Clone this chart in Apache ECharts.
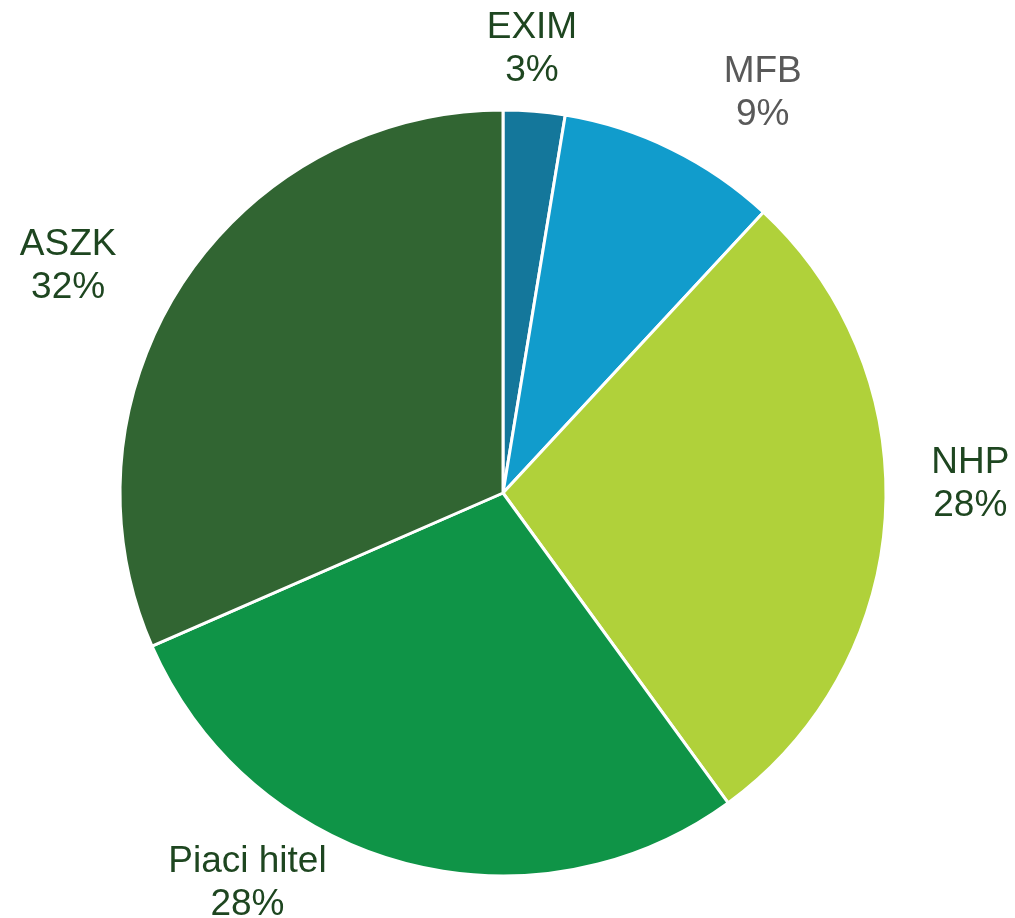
<!DOCTYPE html>
<html><head><meta charset="utf-8">
<script src="https://cdn.jsdelivr.net/npm/echarts@6/dist/echarts.min.js"></script>
<style>html,body{margin:0;padding:0;background:#fff}#c{width:1015px;height:918px}</style>
</head><body><div id="c"></div>
<script>
const categories = ['EXIM', 'MFB', 'NHP', 'Piaci hitel', 'ASZK'];
const values = [2.6, 9.3, 28.1, 28.45, 31.55];
const colors = ['#14779B', '#119CCC', '#B0D13A', '#0F9447', '#316532'];
const labelColors = ['#1E4620', '#595959', '#1E4620', '#1E4620', '#1E4620'];
// label nudges relative to ECharts' default outside placement (layout only)
const labelNudgeX = [-55, 34, 11, -63, -36];
const labelNudgeY = [-32, -29, -33, -8, 0];

const chart = echarts.init(document.getElementById('c'));
chart.setOption({
  animation: false,
  series: [{
    type: 'pie',
    center: [503, 493],
    radius: [0, 383],
    startAngle: 90,
    clockwise: true,
    percentPrecision: 0,
    avoidLabelOverlap: false,
    itemStyle: { borderColor: '#fff', borderWidth: 3 },
    label: {
      show: true,
      position: 'outside',
      formatter: '{b}\n{d}%',
      fontFamily: 'Liberation Sans, Arial, sans-serif',
      fontSize: 37,
      lineHeight: 43
    },
    labelLine: { show: false, length: 30, length2: 0 },
    labelLayout: function (p) {
      const i = p.dataIndex;
      return {
        x: p.labelRect.x + p.labelRect.width / 2 + labelNudgeX[i],
        y: p.labelRect.y + p.labelRect.height / 2 + labelNudgeY[i],
        align: 'center', verticalAlign: 'middle'
      };
    },
    data: categories.map((c, i) => ({
      name: c, value: values[i],
      itemStyle: { color: colors[i] },
      label: { color: labelColors[i] }
    }))
  }]
});
</script></body></html>
